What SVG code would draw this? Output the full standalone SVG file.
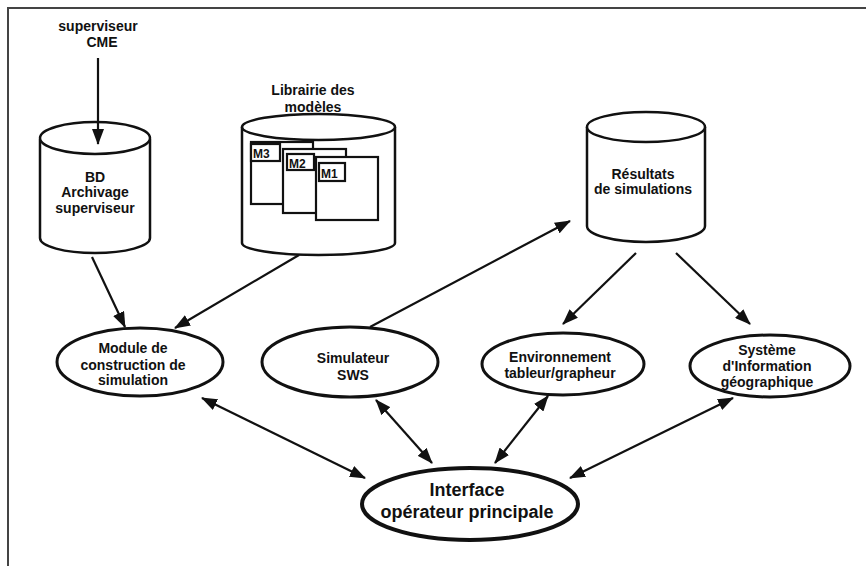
<svg xmlns="http://www.w3.org/2000/svg" width="866" height="566" viewBox="0 0 866 566">
  <style>
    .bg { fill: #ffffff; }
    .frame { fill: none; stroke: #444; stroke-width: 2; }
    .shape { fill: #ffffff; stroke: #111; stroke-width: 2.5; }
    .oval { fill: #ffffff; stroke: #111; stroke-width: 3; }
    .main { fill: #ffffff; stroke: #111; stroke-width: 4; }
    .box { fill: #ffffff; stroke: #111; stroke-width: 2.2; }
    .lbl { font-family: "Liberation Sans", Arial, sans-serif; font-weight: bold; font-size: 14px; fill: #111; text-anchor: middle; }
    .big { font-size: 18px; }
    .small { font-size: 12px; text-anchor: start; }
    .edge { fill: none; stroke: #111; stroke-width: 2.2; }
  </style>
  <defs>
    <marker id="head" viewBox="0 0 16 12" refX="15" refY="6" markerWidth="16" markerHeight="12" markerUnits="userSpaceOnUse" orient="auto-start-reverse">
      <path d="M0,0 L16,6 L0,12 Z" fill="#111"/>
    </marker>
  </defs>

  <rect class="bg" x="0" y="0" width="866" height="566"/>
  <rect class="frame" x="8" y="8" width="880" height="580"/>

  <!-- external source label -->
  <g id="source">
    <text class="lbl" x="98" y="31">superviseur</text>
    <text class="lbl" x="102" y="47">CME</text>
  </g>

  <!-- archive database -->
  <g id="bd-archivage">
    <path class="shape" d="M40,139 L40,238 A55,15 0 0 0 150,238 L150,139"/>
    <ellipse class="shape" cx="95" cy="138" rx="55" ry="16"/>
    <text class="lbl" x="95" y="182">BD</text>
    <text class="lbl" x="95" y="197">Archivage</text>
    <text class="lbl" x="95" y="213">superviseur</text>
  </g>

  <!-- model library -->
  <g id="librairie">
    <text class="lbl" x="313" y="95">Librairie des</text>
    <text class="lbl" x="313" y="112">modèles</text>
    <path class="shape" d="M242,127 L242,243 A76.5,12 0 0 0 395,243 L395,127"/>
    <ellipse class="shape" cx="318.5" cy="127" rx="76.5" ry="13"/>
    <rect class="box" x="251" y="142" width="62" height="62"/>
    <rect class="box" x="251" y="144" width="29" height="17"/>
    <text class="lbl small" x="253" y="158">M3</text>
    <rect class="box" x="283" y="149" width="63" height="64"/>
    <rect class="box" x="287" y="154" width="27" height="16"/>
    <text class="lbl small" x="289" y="168">M2</text>
    <rect class="box" x="316" y="157" width="62" height="63"/>
    <rect class="box" x="319" y="163" width="26" height="18"/>
    <text class="lbl small" x="321" y="178">M1</text>
  </g>

  <!-- simulation results store -->
  <g id="resultats">
    <path class="shape" d="M587,127 L587,226 A59,16 0 0 0 705,226 L705,127"/>
    <ellipse class="shape" cx="646" cy="127" rx="59" ry="15"/>
    <text class="lbl" x="643" y="179">Résultats</text>
    <text class="lbl" x="643" y="194">de simulations</text>
  </g>

  <g id="module">
    <ellipse class="oval" cx="140" cy="362" rx="83" ry="34"/>
    <text class="lbl" x="133" y="353">Module de</text>
    <text class="lbl" x="133" y="370">construction de</text>
    <text class="lbl" x="133" y="385">simulation</text>
  </g>

  <g id="simulateur">
    <ellipse class="oval" cx="350" cy="362" rx="88" ry="35"/>
    <text class="lbl" x="353" y="363">Simulateur</text>
    <text class="lbl" x="353" y="380">SWS</text>
  </g>

  <g id="environnement">
    <ellipse class="oval" cx="563" cy="364" rx="81" ry="31"/>
    <text class="lbl" x="560" y="362">Environnement</text>
    <text class="lbl" x="560" y="378">tableur/grapheur</text>
  </g>

  <g id="sig">
    <ellipse class="oval" cx="770" cy="366" rx="80" ry="31"/>
    <text class="lbl" x="767" y="355">Système</text>
    <text class="lbl" x="767" y="371">d'Information</text>
    <text class="lbl" x="767" y="387">géographique</text>
  </g>

  <g id="interface">
    <ellipse class="main" cx="470" cy="504" rx="108" ry="36"/>
    <text class="lbl big" x="467" y="496">Interface</text>
    <text class="lbl big" x="467" y="518">opérateur principale</text>
  </g>

  <g id="connectors">
    <line class="edge" x1="98" y1="58" x2="98" y2="144" marker-end="url(#head)"/>
    <line class="edge" x1="92" y1="257" x2="125" y2="327" marker-end="url(#head)"/>
    <line class="edge" x1="299" y1="255" x2="175" y2="328" marker-end="url(#head)"/>
    <line class="edge" x1="370" y1="327" x2="570" y2="221" marker-end="url(#head)"/>
    <line class="edge" x1="636" y1="253" x2="563" y2="324" marker-end="url(#head)"/>
    <line class="edge" x1="676" y1="253" x2="750" y2="324" marker-end="url(#head)"/>
    <line class="edge" x1="202" y1="398" x2="365" y2="478" marker-start="url(#head)" marker-end="url(#head)"/>
    <line class="edge" x1="376" y1="400" x2="432" y2="463" marker-start="url(#head)" marker-end="url(#head)"/>
    <line class="edge" x1="548" y1="396" x2="495" y2="463" marker-start="url(#head)" marker-end="url(#head)"/>
    <line class="edge" x1="733" y1="398" x2="570" y2="478" marker-start="url(#head)" marker-end="url(#head)"/>
  </g>
</svg>
